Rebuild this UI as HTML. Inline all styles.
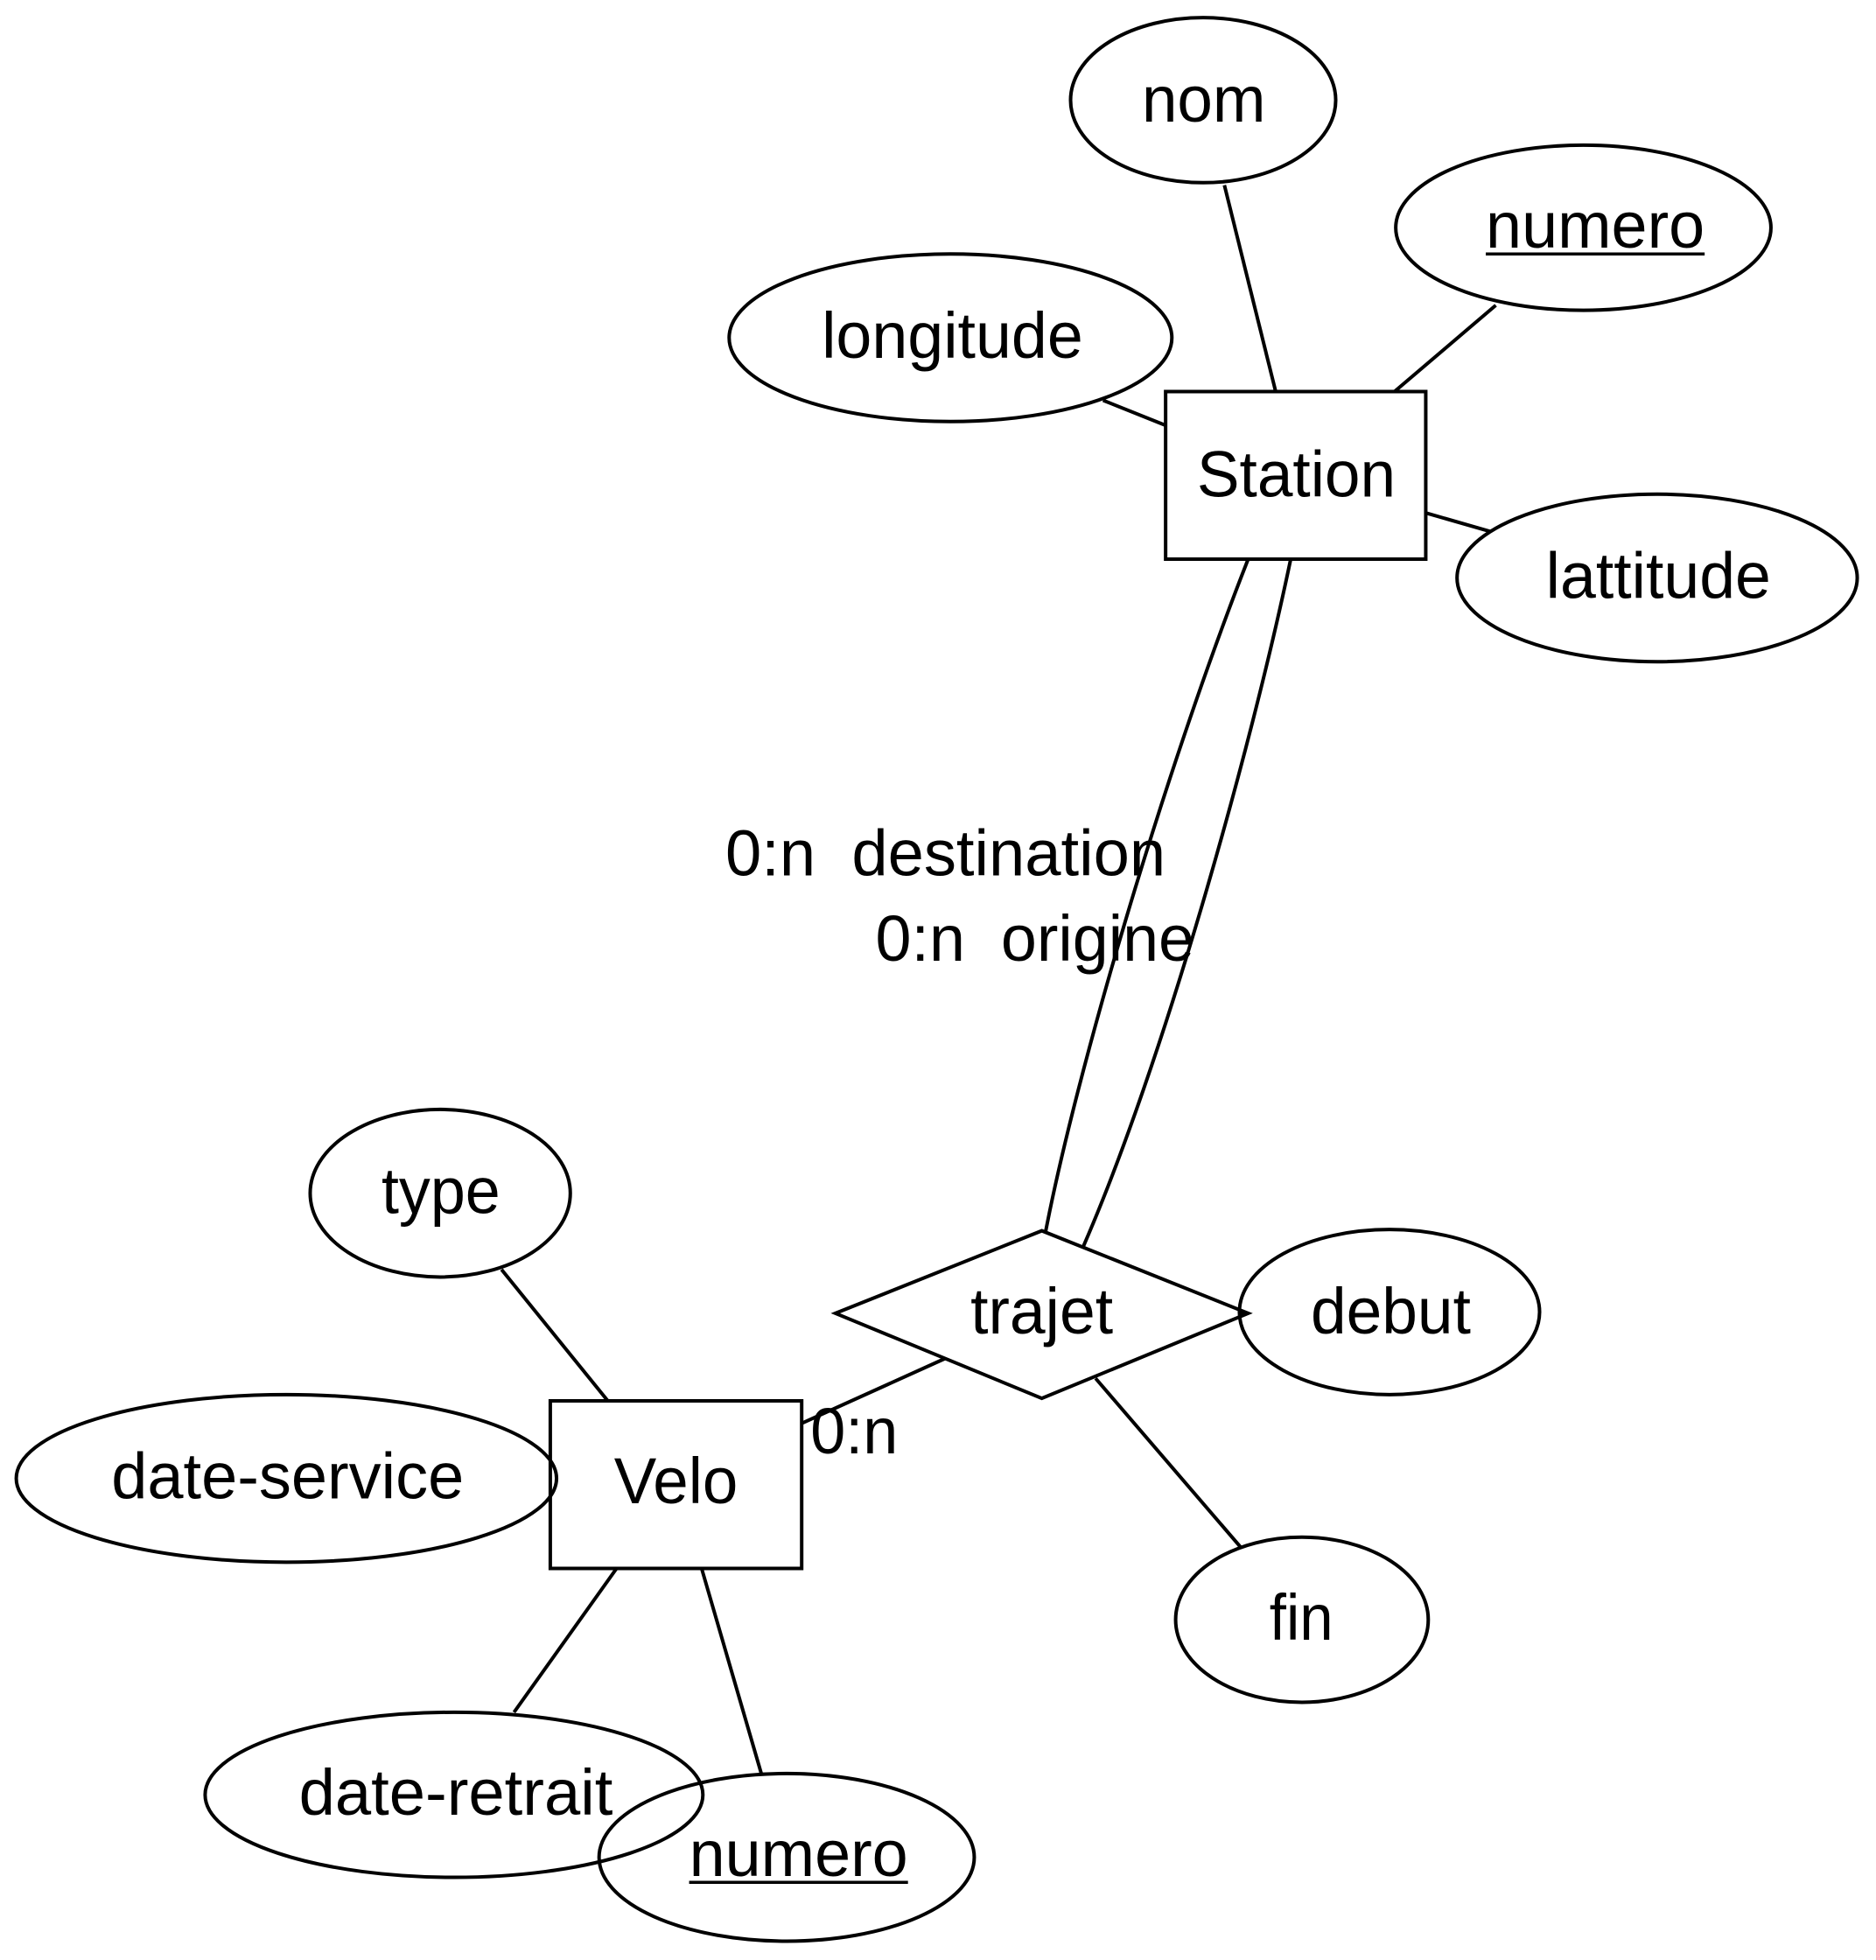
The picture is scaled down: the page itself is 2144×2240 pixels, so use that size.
<!DOCTYPE html>
<html><head><meta charset="utf-8"><style>
html,body{margin:0;padding:0;background:#fff;}
svg{display:block;}
text{font-family:"Liberation Sans",sans-serif;font-size:52px;fill:#000;}
</style></head><body>
<svg width="2144" height="2240" viewBox="0 0 1500 1567" xmlns="http://www.w3.org/2000/svg">
<g fill="none" stroke="#000" stroke-width="2.8">
<ellipse cx="962" cy="80" rx="106" ry="66"/>
<ellipse cx="1266" cy="182" rx="150" ry="66"/>
<ellipse cx="760" cy="270" rx="177" ry="67"/>
<rect x="932" y="313" width="208" height="134"/>
<ellipse cx="1325" cy="462" rx="160" ry="67"/>
<line x1="979" y1="148" x2="1020" y2="313"/>
<line x1="1196" y1="244" x2="1115" y2="313"/>
<line x1="882" y1="320" x2="932" y2="340"/>
<line x1="1140" y1="410" x2="1192" y2="425"/>
<path d="M998,447 C930,620 860,860 836,985"/>
<path d="M1032,447 C1000,600 930,850 866,997"/>
<polygon points="668,1050 833,984 998,1050 833,1118"/>
<ellipse cx="1111" cy="1049" rx="120" ry="66"/>
<line x1="998" y1="1050" x2="991" y2="1050"/>
<ellipse cx="1041" cy="1295" rx="101" ry="66"/>
<line x1="876" y1="1102" x2="992" y2="1237"/>
<ellipse cx="352" cy="954" rx="104" ry="67"/>
<line x1="401" y1="1015" x2="486" y2="1120"/>
<rect x="440" y="1120" width="201" height="134"/>
<line x1="641" y1="1138" x2="756" y2="1086"/>
<ellipse cx="229" cy="1182" rx="216" ry="67"/>
<ellipse cx="363" cy="1435" rx="199" ry="66"/>
<line x1="493" y1="1254" x2="411" y2="1369"/>
<ellipse cx="629" cy="1485" rx="150" ry="67"/>
<line x1="561" y1="1254" x2="609" y2="1419"/>
<line x1="1188" y1="203" x2="1363" y2="203" stroke-width="2.4"/>
<line x1="551" y1="1505" x2="726" y2="1505" stroke-width="2.4"/>
</g>
<text x="913" y="97" textLength="99" lengthAdjust="spacingAndGlyphs">nom</text>
<text x="1188" y="198" textLength="175" lengthAdjust="spacingAndGlyphs">numero</text>
<text x="657" y="286" textLength="209" lengthAdjust="spacingAndGlyphs">longitude</text>
<text x="957" y="397" textLength="159" lengthAdjust="spacingAndGlyphs">Station</text>
<text x="1236" y="478" textLength="180" lengthAdjust="spacingAndGlyphs">lattitude</text>
<text x="580" y="700" textLength="352" lengthAdjust="spacingAndGlyphs" xml:space="preserve">0:n  destination</text>
<text x="700" y="768" textLength="255" lengthAdjust="spacingAndGlyphs" xml:space="preserve">0:n  origine</text>
<text x="776" y="1066" textLength="114" lengthAdjust="spacingAndGlyphs">trajet</text>
<text x="1048" y="1066" textLength="128" lengthAdjust="spacingAndGlyphs">debut</text>
<text x="1015" y="1311" textLength="51" lengthAdjust="spacingAndGlyphs">fin</text>
<text x="305" y="970" textLength="95" lengthAdjust="spacingAndGlyphs">type</text>
<text x="491" y="1202" textLength="99" lengthAdjust="spacingAndGlyphs">Velo</text>
<text x="648" y="1162" textLength="70" lengthAdjust="spacingAndGlyphs">0:n</text>
<text x="89" y="1198" textLength="282" lengthAdjust="spacingAndGlyphs">date-service</text>
<text x="239" y="1451" textLength="251" lengthAdjust="spacingAndGlyphs">date-retrait</text>
<text x="551" y="1500" textLength="175" lengthAdjust="spacingAndGlyphs">numero</text>
</svg>
</body></html>
